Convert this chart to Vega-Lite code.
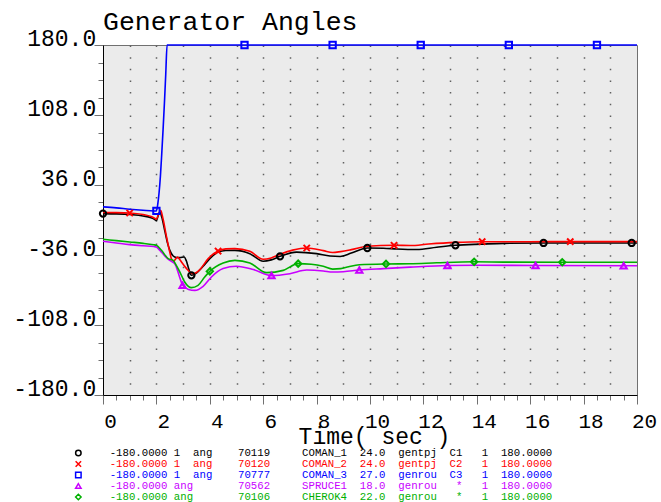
{
  "$schema": "https://vega.github.io/schema/vega-lite/v6.json",
  "width": 534,
  "height": 350,
  "autosize": {"type": "none"},
  "padding": {"left": 103, "top": 45, "right": 24, "bottom": 107},
  "background": "white",
  "title": {"text": "Generator Angles", "anchor": "start", "frame": "group", "font": "Liberation Mono", "fontSize": 26.5, "fontWeight": "normal", "color": "#000000", "baseline": "alphabetic", "offset": -29},
  "config": {
    "view": {"fill": "#ebebeb", "stroke": "#707070", "strokeWidth": 1},
    "legend": {"orient": "none", "legendX": -30, "legendY": 403, "direction": "vertical", "padding": 0, "rowPadding": 0, "clipHeight": 10, "symbolSize": 30, "symbolStrokeWidth": 1.5, "labelFont": "Liberation Mono", "labelFontSize": 10.7, "labelOffset": 26, "labelLimit": 1000, "labelBaseline": "middle"}
  },
  "datasets": {
    "lines": [
      {"time": 0, "angle": 6.6, "gen": "70119"}, {"time": 0.5, "angle": 6.3, "gen": "70119"}, {"time": 1, "angle": 5.6, "gen": "70119"}, {"time": 1.5, "angle": 4.2, "gen": "70119"}, {"time": 1.8, "angle": 2.2, "gen": "70119"}, {"time": 1.95, "angle": 0.3, "gen": "70119"}, {"time": 2, "angle": -0.5, "gen": "70119"}, {"time": 2.06, "angle": 4, "gen": "70119"}, {"time": 2.13, "angle": 8.3, "gen": "70119"}, {"time": 2.2, "angle": 3, "gen": "70119"}, {"time": 2.31, "angle": -10.5, "gen": "70119"}, {"time": 2.42, "angle": -24, "gen": "70119"}, {"time": 2.5, "angle": -31, "gen": "70119"}, {"time": 2.63, "angle": -37, "gen": "70119"}, {"time": 2.75, "angle": -38.5, "gen": "70119"}, {"time": 2.88, "angle": -38.7, "gen": "70119"}, {"time": 3.04, "angle": -38, "gen": "70119"}, {"time": 3.12, "angle": -42, "gen": "70119"}, {"time": 3.19, "angle": -48.3, "gen": "70119"}, {"time": 3.31, "angle": -56.9, "gen": "70119"}, {"time": 3.5, "angle": -54.5, "gen": "70119"}, {"time": 3.75, "angle": -47.6, "gen": "70119"}, {"time": 4, "angle": -39.7, "gen": "70119"}, {"time": 4.31, "angle": -33, "gen": "70119"}, {"time": 4.6, "angle": -31.3, "gen": "70119"}, {"time": 4.94, "angle": -31.2, "gen": "70119"}, {"time": 5.5, "angle": -34.6, "gen": "70119"}, {"time": 6, "angle": -42.5, "gen": "70119"}, {"time": 6.3, "angle": -41, "gen": "70119"}, {"time": 6.63, "angle": -37.4, "gen": "70119"}, {"time": 7.25, "angle": -33, "gen": "70119"}, {"time": 8, "angle": -34.6, "gen": "70119"}, {"time": 8.5, "angle": -37, "gen": "70119"}, {"time": 8.88, "angle": -37.5, "gen": "70119"}, {"time": 9.3, "angle": -34, "gen": "70119"}, {"time": 9.9, "angle": -28.8, "gen": "70119"}, {"time": 10.5, "angle": -29, "gen": "70119"}, {"time": 11, "angle": -29.8, "gen": "70119"}, {"time": 11.75, "angle": -30.4, "gen": "70119"}, {"time": 12.5, "angle": -28, "gen": "70119"}, {"time": 13.2, "angle": -26, "gen": "70119"}, {"time": 14.2, "angle": -24.8, "gen": "70119"}, {"time": 15, "angle": -24, "gen": "70119"}, {"time": 16.5, "angle": -23.6, "gen": "70119"}, {"time": 18, "angle": -23.6, "gen": "70119"}, {"time": 20, "angle": -23.6, "gen": "70119"},
      {"time": 0, "angle": 7.7, "gen": "70120"}, {"time": 0.5, "angle": 7.6, "gen": "70120"}, {"time": 1, "angle": 7.2, "gen": "70120"}, {"time": 1.5, "angle": 5.6, "gen": "70120"}, {"time": 1.8, "angle": 3.5, "gen": "70120"}, {"time": 1.95, "angle": 1.5, "gen": "70120"}, {"time": 2, "angle": 0.8, "gen": "70120"}, {"time": 2.08, "angle": 6, "gen": "70120"}, {"time": 2.16, "angle": 10, "gen": "70120"}, {"time": 2.25, "angle": 1, "gen": "70120"}, {"time": 2.38, "angle": -17.5, "gen": "70120"}, {"time": 2.5, "angle": -33, "gen": "70120"}, {"time": 2.56, "angle": -39.7, "gen": "70120"}, {"time": 2.65, "angle": -42.5, "gen": "70120"}, {"time": 2.72, "angle": -40, "gen": "70120"}, {"time": 2.79, "angle": -38, "gen": "70120"}, {"time": 2.86, "angle": -40, "gen": "70120"}, {"time": 2.94, "angle": -43.2, "gen": "70120"}, {"time": 3.13, "angle": -50, "gen": "70120"}, {"time": 3.25, "angle": -53.5, "gen": "70120"}, {"time": 3.38, "angle": -55.2, "gen": "70120"}, {"time": 3.5, "angle": -54, "gen": "70120"}, {"time": 3.63, "angle": -51, "gen": "70120"}, {"time": 3.94, "angle": -39.7, "gen": "70120"}, {"time": 4.31, "angle": -31.9, "gen": "70120"}, {"time": 4.6, "angle": -29.7, "gen": "70120"}, {"time": 4.94, "angle": -29.4, "gen": "70120"}, {"time": 5.5, "angle": -32.2, "gen": "70120"}, {"time": 6, "angle": -40.4, "gen": "70120"}, {"time": 6.3, "angle": -39, "gen": "70120"}, {"time": 6.63, "angle": -35.3, "gen": "70120"}, {"time": 7.1, "angle": -31, "gen": "70120"}, {"time": 7.63, "angle": -28.8, "gen": "70120"}, {"time": 8.25, "angle": -31.5, "gen": "70120"}, {"time": 8.6, "angle": -33.5, "gen": "70120"}, {"time": 8.9, "angle": -32.5, "gen": "70120"}, {"time": 9.3, "angle": -30.5, "gen": "70120"}, {"time": 9.9, "angle": -27, "gen": "70120"}, {"time": 10.9, "angle": -26, "gen": "70120"}, {"time": 11.5, "angle": -26.3, "gen": "70120"}, {"time": 12.2, "angle": -24.7, "gen": "70120"}, {"time": 13.2, "angle": -23, "gen": "70120"}, {"time": 14.2, "angle": -22.3, "gen": "70120"}, {"time": 16, "angle": -22.3, "gen": "70120"}, {"time": 17.5, "angle": -22.2, "gen": "70120"}, {"time": 20, "angle": -22.2, "gen": "70120"},
      {"time": 0, "angle": 13.5, "gen": "70777"}, {"time": 0.5, "angle": 12.5, "gen": "70777"}, {"time": 1, "angle": 11.1, "gen": "70777"}, {"time": 1.5, "angle": 10, "gen": "70777"}, {"time": 1.9, "angle": 9.3, "gen": "70777"}, {"time": 2, "angle": 9.3, "gen": "70777"}, {"time": 2.05, "angle": 16, "gen": "70777"}, {"time": 2.1, "angle": 28, "gen": "70777"}, {"time": 2.15, "angle": 45, "gen": "70777"}, {"time": 2.2, "angle": 68, "gen": "70777"}, {"time": 2.25, "angle": 93, "gen": "70777"}, {"time": 2.3, "angle": 120, "gen": "70777"}, {"time": 2.35, "angle": 150, "gen": "70777"}, {"time": 2.4, "angle": 180, "gen": "70777"}, {"time": 20, "angle": 180, "gen": "70777"},
      {"time": 0, "angle": -21.9, "gen": "70562"}, {"time": 0.5, "angle": -23.6, "gen": "70562"}, {"time": 1, "angle": -25.3, "gen": "70562"}, {"time": 1.5, "angle": -26.5, "gen": "70562"}, {"time": 1.9, "angle": -27.3, "gen": "70562"}, {"time": 2, "angle": -27.7, "gen": "70562"}, {"time": 2.1, "angle": -30.5, "gen": "70562"}, {"time": 2.19, "angle": -33, "gen": "70562"}, {"time": 2.35, "angle": -38, "gen": "70562"}, {"time": 2.5, "angle": -41.5, "gen": "70562"}, {"time": 2.69, "angle": -44.9, "gen": "70562"}, {"time": 2.85, "angle": -57, "gen": "70562"}, {"time": 2.98, "angle": -67, "gen": "70562"}, {"time": 3.2, "angle": -71.5, "gen": "70562"}, {"time": 3.44, "angle": -72.4, "gen": "70562"}, {"time": 3.75, "angle": -68.2, "gen": "70562"}, {"time": 4.06, "angle": -58.6, "gen": "70562"}, {"time": 4.5, "angle": -50, "gen": "70562"}, {"time": 5, "angle": -47.6, "gen": "70562"}, {"time": 5.63, "angle": -51, "gen": "70562"}, {"time": 6.31, "angle": -57.2, "gen": "70562"}, {"time": 7, "angle": -55.2, "gen": "70562"}, {"time": 7.63, "angle": -51.5, "gen": "70562"}, {"time": 8.25, "angle": -52.4, "gen": "70562"}, {"time": 8.6, "angle": -53.5, "gen": "70562"}, {"time": 9, "angle": -53.2, "gen": "70562"}, {"time": 9.6, "angle": -51.5, "gen": "70562"}, {"time": 10.5, "angle": -50, "gen": "70562"}, {"time": 11.5, "angle": -48.5, "gen": "70562"}, {"time": 12.9, "angle": -46.8, "gen": "70562"}, {"time": 14, "angle": -46.5, "gen": "70562"}, {"time": 16.2, "angle": -46.8, "gen": "70562"}, {"time": 20, "angle": -47, "gen": "70562"},
      {"time": 0, "angle": -19.8, "gen": "70106"}, {"time": 0.5, "angle": -21.2, "gen": "70106"}, {"time": 1, "angle": -22.6, "gen": "70106"}, {"time": 1.5, "angle": -24, "gen": "70106"}, {"time": 1.9, "angle": -25.5, "gen": "70106"}, {"time": 2, "angle": -26, "gen": "70106"}, {"time": 2.19, "angle": -31.2, "gen": "70106"}, {"time": 2.44, "angle": -39.7, "gen": "70106"}, {"time": 2.63, "angle": -41.5, "gen": "70106"}, {"time": 2.75, "angle": -47, "gen": "70106"}, {"time": 2.88, "angle": -53.5, "gen": "70106"}, {"time": 3.06, "angle": -63.8, "gen": "70106"}, {"time": 3.31, "angle": -69.6, "gen": "70106"}, {"time": 3.56, "angle": -67.2, "gen": "70106"}, {"time": 3.81, "angle": -58.6, "gen": "70106"}, {"time": 4, "angle": -52.8, "gen": "70106"}, {"time": 4.5, "angle": -44.2, "gen": "70106"}, {"time": 4.94, "angle": -41.5, "gen": "70106"}, {"time": 5.5, "angle": -44.2, "gen": "70106"}, {"time": 6.13, "angle": -54.1, "gen": "70106"}, {"time": 6.75, "angle": -51.8, "gen": "70106"}, {"time": 7.31, "angle": -44.9, "gen": "70106"}, {"time": 7.8, "angle": -45.5, "gen": "70106"}, {"time": 8.25, "angle": -47.6, "gen": "70106"}, {"time": 8.6, "angle": -50.5, "gen": "70106"}, {"time": 8.9, "angle": -50, "gen": "70106"}, {"time": 9.2, "angle": -48, "gen": "70106"}, {"time": 9.6, "angle": -46, "gen": "70106"}, {"time": 10.6, "angle": -45.2, "gen": "70106"}, {"time": 11.5, "angle": -45, "gen": "70106"}, {"time": 12.5, "angle": -44, "gen": "70106"}, {"time": 13.9, "angle": -43, "gen": "70106"}, {"time": 15, "angle": -43.3, "gen": "70106"}, {"time": 17.2, "angle": -43.5, "gen": "70106"}, {"time": 20, "angle": -43.5, "gen": "70106"}
    ],
    "markers": [
      {"time": 0, "angle": 6.6, "gen": "70119"}, {"time": 3.31, "angle": -56.9, "gen": "70119"}, {"time": 6.63, "angle": -37.4, "gen": "70119"}, {"time": 9.9, "angle": -28.8, "gen": "70119"}, {"time": 13.2, "angle": -26, "gen": "70119"}, {"time": 16.5, "angle": -23.6, "gen": "70119"}, {"time": 19.8, "angle": -23.6, "gen": "70119"},
      {"time": 1, "angle": 7.2, "gen": "70120"}, {"time": 4.31, "angle": -31.9, "gen": "70120"}, {"time": 7.63, "angle": -28.8, "gen": "70120"}, {"time": 10.9, "angle": -26, "gen": "70120"}, {"time": 14.2, "angle": -22.3, "gen": "70120"}, {"time": 17.5, "angle": -22.2, "gen": "70120"},
      {"time": 2, "angle": 9.3, "gen": "70777"}, {"time": 5.3, "angle": 180, "gen": "70777"}, {"time": 8.6, "angle": 180, "gen": "70777"}, {"time": 11.9, "angle": 180, "gen": "70777"}, {"time": 15.2, "angle": 180, "gen": "70777"}, {"time": 18.5, "angle": 180, "gen": "70777"},
      {"time": 2.98, "angle": -67, "gen": "70562"}, {"time": 6.31, "angle": -57.2, "gen": "70562"}, {"time": 9.6, "angle": -51.5, "gen": "70562"}, {"time": 12.9, "angle": -46.8, "gen": "70562"}, {"time": 16.2, "angle": -46.8, "gen": "70562"}, {"time": 19.5, "angle": -47, "gen": "70562"},
      {"time": 4, "angle": -52.8, "gen": "70106"}, {"time": 7.31, "angle": -44.9, "gen": "70106"}, {"time": 10.6, "angle": -45.2, "gen": "70106"}, {"time": 13.9, "angle": -43, "gen": "70106"}, {"time": 17.2, "angle": -43.5, "gen": "70106"}
    ]
  },
  "encoding": {
    "x": {
      "field": "time", "type": "quantitative",
      "scale": {"domain": [0, 20], "nice": false},
      "axis": {
        "values": [0, 0.5, 1, 1.5, 2, 2.5, 3, 3.5, 4, 4.5, 5, 5.5, 6, 6.5, 7, 7.5, 8, 8.5, 9, 9.5, 10, 10.5, 11, 11.5, 12, 12.5, 13, 13.5, 14, 14.5, 15, 15.5, 16, 16.5, 17, 17.5, 18, 18.5, 19, 19.5, 20],
        "title": "Time( sec )", "titleFont": "Liberation Mono", "titleFontSize": 23, "titleFontWeight": "normal", "titleColor": "#000000",
        "titleX": 271, "titleY": 48.5, "titleBaseline": "alphabetic", "titleAlign": "center", "titleAnchor": null,
        "labelExpr": "datum.value % 2 === 0 ? '' + datum.value : ''",
        "labelFont": "Liberation Mono", "labelFontSize": 21, "labelColor": "#000000", "labelAngle": 0, "labelOffset": 7,
        "labelBaseline": "alphabetic", "labelPadding": 23, "labelOverlap": false, "labelBound": false, "labelFlush": false,
        "tickSize": {"condition": {"test": "datum.value % 2 === 0", "value": 9}, "value": 5},
        "tickColor": "#707070", "tickWidth": 1, "domainColor": "#000000", "domainWidth": 1,
        "grid": true, "gridColor": "#606060", "gridWidth": 1.5, "gridDash": [1.5, 10.15],
        "gridOpacity": {"condition": {"test": "datum.value % 1 === 0 && datum.value > 0 && datum.value < 20", "value": 1}, "value": 0}
      }
    },
    "y": {
      "field": "angle", "type": "quantitative",
      "scale": {"domain": [-180, 180], "nice": false},
      "axis": {
        "values": [-180, -162, -144, -126, -108, -90, -72, -54, -36, -18, 0, 18, 36, 54, 72, 90, 108, 126, 144, 162, 180],
        "title": null,
        "labelExpr": "(180 - datum.value) % 72 === 0 ? (datum.value < 0 ? '-' : '') + format(abs(datum.value), '.1f') : ''",
        "labelFont": "Liberation Mono", "labelFontSize": 23, "labelColor": "#000000", "labelBaseline": "alphabetic",
        "labelPadding": -1.7, "labelOverlap": false, "labelBound": false, "labelFlush": false,
        "tickSize": {"condition": {"test": "(180 - datum.value) % 72 === 0", "value": 9}, "value": 5},
        "tickColor": "#707070", "tickWidth": 1, "domainColor": "#000000", "domainWidth": 1, "grid": false
      }
    },
    "color": {
      "field": "gen", "type": "nominal",
      "scale": {"domain": ["70119", "70120", "70777", "70562", "70106"], "range": ["#000000", "#ff0000", "#0000ff", "#c800ff", "#00b000"]},
      "legend": {
        "title": null,
        "labelExpr": "datum.label == '70119' ? '-180.0000\u00a01\u00a0\u00a0ang\u00a0\u00a0\u00a0\u00a070119\u00a0\u00a0\u00a0\u00a0\u00a0COMAN_1\u00a0\u00a024.0\u00a0\u00a0gentpj\u00a0\u00a0C1\u00a0\u00a0\u00a01\u00a0\u00a0180.0000' : datum.label == '70120' ? '-180.0000\u00a01\u00a0\u00a0ang\u00a0\u00a0\u00a0\u00a070120\u00a0\u00a0\u00a0\u00a0\u00a0COMAN_2\u00a0\u00a024.0\u00a0\u00a0gentpj\u00a0\u00a0C2\u00a0\u00a0\u00a01\u00a0\u00a0180.0000' : datum.label == '70777' ? '-180.0000\u00a01\u00a0\u00a0ang\u00a0\u00a0\u00a0\u00a070777\u00a0\u00a0\u00a0\u00a0\u00a0COMAN_3\u00a0\u00a027.0\u00a0\u00a0genrou\u00a0\u00a0C3\u00a0\u00a0\u00a01\u00a0\u00a0180.0000' : datum.label == '70562' ? '-180.0000\u00a0ang\u00a0\u00a0\u00a0\u00a0\u00a0\u00a0\u00a070562\u00a0\u00a0\u00a0\u00a0\u00a0SPRUCE1\u00a0\u00a018.0\u00a0\u00a0genrou\u00a0\u00a0\u00a0*\u00a0\u00a0\u00a01\u00a0\u00a0180.0000' : '-180.0000\u00a0ang\u00a0\u00a0\u00a0\u00a0\u00a0\u00a0\u00a070106\u00a0\u00a0\u00a0\u00a0\u00a0CHEROK4\u00a0\u00a022.0\u00a0\u00a0genrou\u00a0\u00a0\u00a0*\u00a0\u00a0\u00a01\u00a0\u00a0180.0000'",
        "encode": {"labels": {"update": {"fill": {"scale": "color", "field": "value"}}}}
      }
    }
  },
  "layer": [
    {
      "data": {"name": "lines"},
      "mark": {"type": "line", "strokeWidth": 1.6, "interpolate": "monotone", "clip": false}
    },
    {
      "data": {"name": "markers"},
      "mark": {"type": "point", "filled": false, "strokeWidth": 2, "size": 40, "opacity": 1},
      "encoding": {
        "shape": {
          "field": "gen", "type": "nominal",
          "scale": {"domain": ["70119", "70120", "70777", "70562", "70106"], "range": ["circle", "M-1,-1L1,1M-1,1L1,-1", "square", "triangle-up", "diamond"]},
          "legend": {
            "title": null,
            "labelExpr": "datum.label == '70119' ? '-180.0000\u00a01\u00a0\u00a0ang\u00a0\u00a0\u00a0\u00a070119\u00a0\u00a0\u00a0\u00a0\u00a0COMAN_1\u00a0\u00a024.0\u00a0\u00a0gentpj\u00a0\u00a0C1\u00a0\u00a0\u00a01\u00a0\u00a0180.0000' : datum.label == '70120' ? '-180.0000\u00a01\u00a0\u00a0ang\u00a0\u00a0\u00a0\u00a070120\u00a0\u00a0\u00a0\u00a0\u00a0COMAN_2\u00a0\u00a024.0\u00a0\u00a0gentpj\u00a0\u00a0C2\u00a0\u00a0\u00a01\u00a0\u00a0180.0000' : datum.label == '70777' ? '-180.0000\u00a01\u00a0\u00a0ang\u00a0\u00a0\u00a0\u00a070777\u00a0\u00a0\u00a0\u00a0\u00a0COMAN_3\u00a0\u00a027.0\u00a0\u00a0genrou\u00a0\u00a0C3\u00a0\u00a0\u00a01\u00a0\u00a0180.0000' : datum.label == '70562' ? '-180.0000\u00a0ang\u00a0\u00a0\u00a0\u00a0\u00a0\u00a0\u00a070562\u00a0\u00a0\u00a0\u00a0\u00a0SPRUCE1\u00a0\u00a018.0\u00a0\u00a0genrou\u00a0\u00a0\u00a0*\u00a0\u00a0\u00a01\u00a0\u00a0180.0000' : '-180.0000\u00a0ang\u00a0\u00a0\u00a0\u00a0\u00a0\u00a0\u00a070106\u00a0\u00a0\u00a0\u00a0\u00a0CHEROK4\u00a0\u00a022.0\u00a0\u00a0genrou\u00a0\u00a0\u00a0*\u00a0\u00a0\u00a01\u00a0\u00a0180.0000'",
            "encode": {"labels": {"update": {"fill": {"scale": "color", "field": "value"}}}}
          }
        }
      }
    }
  ]
}
